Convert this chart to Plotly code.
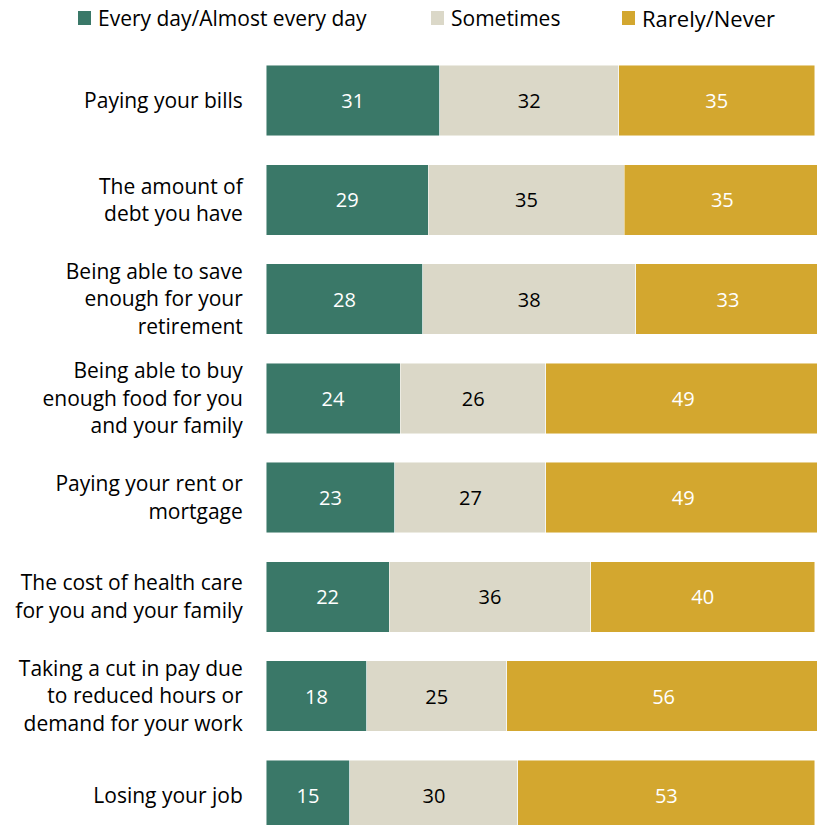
import plotly.graph_objects as go

categories = [
    "Paying your bills",
    "The amount of<br>debt you have",
    "Being able to save<br>enough for your<br>retirement",
    "Being able to buy<br>enough food for you<br>and your family",
    "Paying your rent or<br>mortgage",
    "The cost of health care<br>for you and your family",
    "Taking a cut in pay due<br>to reduced hours or<br>demand for your work",
    "Losing your job",
]
every_day = [31, 29, 28, 24, 23, 22, 18, 15]
sometimes = [32, 35, 38, 26, 27, 36, 25, 30]
rarely = [35, 35, 33, 49, 49, 40, 56, 53]

series_names = ["Every day/Almost every day", "Sometimes", "Rarely/Never"]
series_values = [every_day, sometimes, rarely]
series_colors = ["#3a7868", "#dbd8c8", "#d3a72f"]
text_colors = ["white", "black", "white"]

FONT = "Open Sans"
W, H = 817, 825
ML, MR, MT, MB = 266, 0, 51, 0
PW, PH = W - ML - MR, H - MT - MB


def px_x(px):
    return (px - ML) / PW


def px_y(py):
    return (H - MB - py) / PH


fig = go.Figure()
for name, vals, color, tcolor in zip(series_names, series_values, series_colors, text_colors):
    fig.add_trace(go.Bar(
        y=categories, x=vals, name=name, orientation="h",
        marker=dict(color=color, line=dict(color="rgba(255,255,255,0.6)", width=0.8)),
        text=[str(v) for v in vals], textposition="inside",
        insidetextanchor="middle", textangle=0, constraintext="none",
        textfont=dict(color=tcolor, size=20, family=FONT),
        hoverinfo="skip", showlegend=False,
    ))

# Legend drawn as swatches + text labels across the top
legend_square_left = [78, 431, 622]
legend_font_sizes = [21, 21, 22]
for name, color, sx, fs in zip(series_names, series_colors, legend_square_left, legend_font_sizes):
    fig.add_shape(type="rect", xref="paper", yref="paper",
                  x0=px_x(sx), x1=px_x(sx + 13), y0=px_y(25), y1=px_y(11),
                  fillcolor=color, line=dict(width=0))
    fig.add_annotation(xref="paper", yref="paper", x=px_x(sx + 18), y=px_y(18),
                       xanchor="left", yanchor="middle", showarrow=False,
                       text=name, font=dict(size=fs, family=FONT, color="black"))

fig.update_layout(
    barmode="stack", bargap=0.29,
    width=W, height=H,
    margin=dict(l=ML, r=MR, t=MT, b=MB, autoexpand=False),
    paper_bgcolor="white", plot_bgcolor="white",
    font=dict(family=FONT, size=21, color="black"),
    showlegend=False,
    xaxis=dict(range=[0, 98.4], visible=False, fixedrange=True),
    yaxis=dict(range=[7.3, -0.5], showgrid=False, zeroline=False, showline=False,
               ticks="outside", ticklen=18, tickcolor="rgba(0,0,0,0)",
               tickfont=dict(size=21, family=FONT, color="black"), fixedrange=True),
)

fig.write_html("out.html", config={"displayModeBar": False})
